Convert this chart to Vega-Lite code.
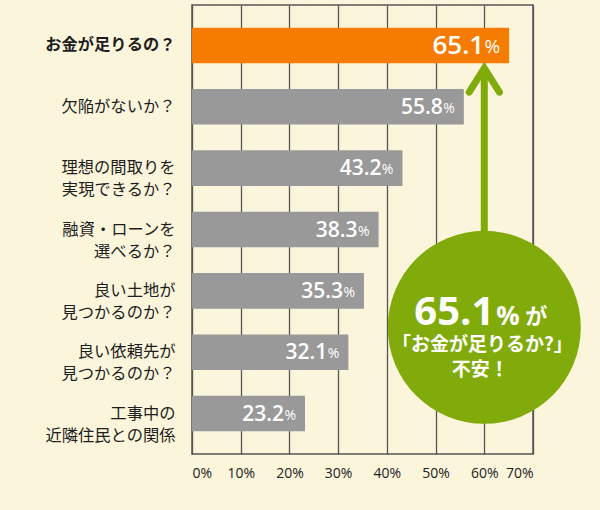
{
  "$schema": "https://vega.github.io/schema/vega-lite/v6.json",
  "width": 341,
  "height": 449,
  "autosize": {"type": "none"},
  "padding": {"left": 192, "top": 5, "right": 67, "bottom": 56},
  "background": "#fbf5db",
  "config": {
    "view": {"stroke": "#555555", "strokeWidth": 1.5},
    "axis": {"labelFont": "Noto Sans CJK JP", "titleFont": "Noto Sans CJK JP"}
  },
  "layer": [
    {
      "data": {
        "values": [
          {"q": "お金が足りるの？", "v": 65.1},
          {"q": "欠陥がないか？", "v": 55.8},
          {"q": "理想の間取りを|実現できるか？", "v": 43.2},
          {"q": "融資・ローンを|選べるか？", "v": 38.3},
          {"q": "良い土地が|見つかるのか？", "v": 35.3},
          {"q": "良い依頼先が|見つかるのか？", "v": 32.1},
          {"q": "工事中の|近隣住民との関係", "v": 23.2}
        ]
      },
      "encoding": {
        "y": {
          "field": "q", "type": "nominal", "sort": null, "title": null,
          "scale": {"paddingInner": 0.42, "paddingOuter": 0.37},
          "axis": {
            "labelExpr": "split(datum.value, '|')",
            "labelFontSize": 16.3,
            "labelColor": "#1e1e1e",
            "labelLineHeight": 22,
            "labelPadding": 17,
            "labelBaseline": "middle",
            "ticks": false,
            "domain": false,
            "labelFontWeight": {"condition": {"test": "datum.value === 'お金が足りるの？'", "value": "bold"}, "value": "normal"}
          }
        },
        "x": {
          "field": "v", "type": "quantitative", "title": null,
          "scale": {"domain": [0, 70], "nice": false},
          "axis": {
            "values": [0, 10, 20, 30, 40, 50, 60, 70],
            "labelExpr": "datum.value + '%'",
            "labelFont": "Open Sans",
            "labelFontSize": 14,
            "labelColor": "#222222",
            "labelPadding": 12,
            "ticks": false,
            "domain": false,
            "grid": true,
            "gridColor": "#555555",
            "gridWidth": 1.3,
            "gridOpacity": 1
          }
        }
      },
      "layer": [
        {
          "mark": {"type": "bar"},
          "encoding": {
            "color": {"condition": {"test": "datum.q === 'お金が足りるの？'", "value": "#f57c00"}, "value": "#999999"}
          }
        },
        {
          "transform": [{"filter": "datum.q !== 'お金が足りるの？'"}],
          "mark": {"type": "text", "align": "right", "baseline": "middle", "dx": -21, "dy": 1, "font": "Open Sans", "fontSize": 21, "fontWeight": 600, "color": "white"},
          "encoding": {"text": {"field": "v", "type": "quantitative", "format": ".1f"}}
        },
        {
          "transform": [{"filter": "datum.q !== 'お金が足りるの？'"}],
          "mark": {"type": "text", "align": "right", "baseline": "middle", "dx": -9, "dy": 2, "font": "Open Sans", "fontSize": 14, "color": "white", "text": "%"},
          "encoding": {}
        },
        {
          "transform": [{"filter": "datum.q === 'お金が足りるの？'"}],
          "mark": {"type": "text", "align": "right", "baseline": "middle", "dx": -25, "dy": 1, "font": "Open Sans", "fontSize": 26, "fontWeight": 600, "color": "white"},
          "encoding": {"text": {"field": "v", "type": "quantitative", "format": ".1f"}}
        },
        {
          "transform": [{"filter": "datum.q === 'お金が足りるの？'"}],
          "mark": {"type": "text", "align": "right", "baseline": "middle", "dx": -9, "dy": 2, "font": "Open Sans", "fontSize": 19, "color": "white", "text": "%"},
          "encoding": {}
        }
      ]
    },
    {
      "encoding": {
        "x": {"field": "ax", "type": "quantitative", "title": null, "scale": {"domain": [0, 70], "nice": false}},
        "y": {"field": "ay", "type": "quantitative", "axis": null, "scale": {"domain": [-0.66, 6.653], "reverse": true, "nice": false, "zero": false}}
      },
      "layer": [
        {
          "data": {"values": [{"ax": 60, "ay": 0.42, "ay2": 3.1}]},
          "mark": {"type": "rule", "color": "#80ab0a", "strokeWidth": 7},
          "encoding": {"y2": {"field": "ay2"}}
        },
        {
          "data": {"values": [{"ax": 56.9, "ay": 0.76, "o": 1}, {"ax": 60, "ay": 0.37, "o": 2}, {"ax": 63.1, "ay": 0.76, "o": 3}]},
          "mark": {"type": "line", "color": "#80ab0a", "strokeWidth": 7, "strokeCap": "round", "strokeJoin": "miter"},
          "encoding": {"order": {"field": "o"}}
        },
        {
          "data": {"values": [{"ax": 60, "ay": 4.59}]},
          "mark": {"type": "point", "shape": "circle", "filled": true, "size": 37250, "color": "#80ab0a", "opacity": 1}
        },
        {
          "data": {"values": [{"ax": 60, "ay": 4.55, "t": "65.1"}]},
          "mark": {"type": "text", "align": "right", "baseline": "alphabetic", "dx": 10, "font": "Open Sans", "fontSize": 40, "fontWeight": "bold", "color": "white"},
          "encoding": {"text": {"field": "t"}}
        },
        {
          "data": {"values": [{"ax": 60, "ay": 4.55, "t": "%"}]},
          "mark": {"type": "text", "align": "left", "baseline": "alphabetic", "dx": 12, "font": "Open Sans", "fontSize": 26, "fontWeight": "bold", "color": "white"},
          "encoding": {"text": {"field": "t"}}
        },
        {
          "data": {"values": [{"ax": 60, "ay": 4.55, "t": "が"}]},
          "mark": {"type": "text", "align": "left", "baseline": "alphabetic", "dx": 41, "dy": -1, "font": "Noto Sans CJK JP", "fontSize": 22, "fontWeight": "bold", "color": "white"},
          "encoding": {"text": {"field": "t"}}
        },
        {
          "data": {"values": [{"ax": 60, "ay": 4.87, "t": "「お金が足りるか?」"}]},
          "mark": {"type": "text", "align": "center", "baseline": "middle", "dx": -2, "font": "Noto Sans CJK JP", "fontSize": 19, "fontWeight": "bold", "color": "white"},
          "encoding": {"text": {"field": "t"}}
        },
        {
          "data": {"values": [{"ax": 60, "ay": 5.29, "t": "不安！"}]},
          "mark": {"type": "text", "align": "center", "baseline": "middle", "dx": -4, "font": "Noto Sans CJK JP", "fontSize": 19, "fontWeight": "bold", "color": "white"},
          "encoding": {"text": {"field": "t"}}
        }
      ]
    }
  ],
  "resolve": {"scale": {"y": "independent"}, "axis": {"y": "independent"}}
}
